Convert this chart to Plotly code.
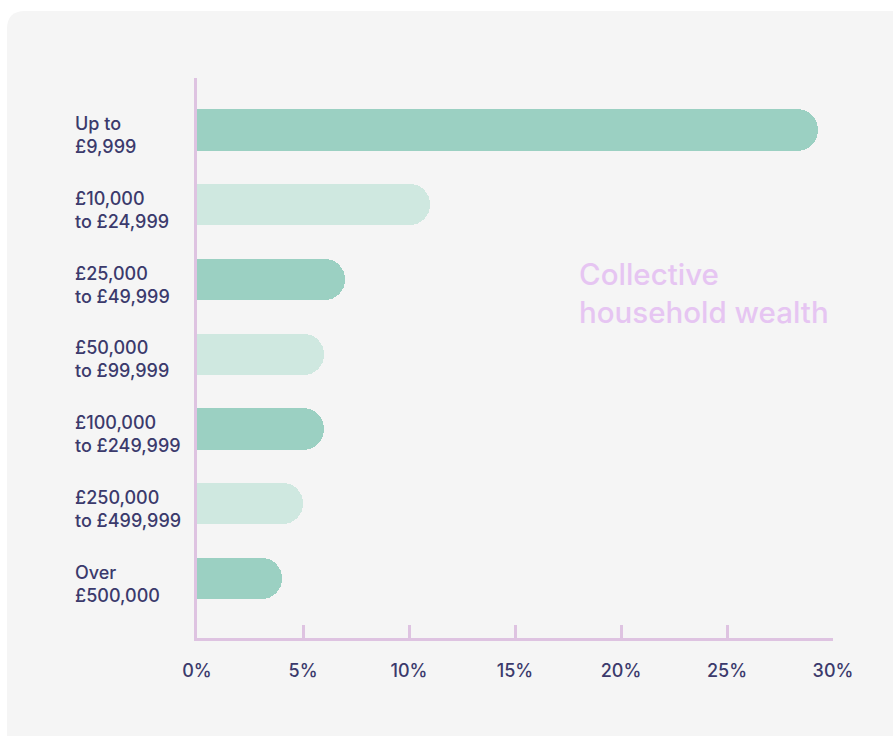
import plotly.graph_objects as go

# Wealth bands, share of households (%)
categories = [
    "Up to\n£9,999",
    "£10,000\nto £24,999",
    "£25,000\nto £49,999",
    "£50,000\nto £99,999",
    "£100,000\nto £249,999",
    "£250,000\nto £499,999",
    "Over\n£500,000",
]
shares = [29.3, 11, 7, 6, 6, 5, 4]
x_ticks = [0, 5, 10, 15, 20, 25, 30]
x_tick_labels = ["0%", "5%", "10%", "15%", "20%", "25%", "30%"]
title_text = "Collective<br>household wealth"

DARK = "#9bd0c2"
LIGHT = "#cfe8e0"
AXIS = "#dec3e1"
TEXT = "#3b3a6c"
FONT = "Inter, 'Open Sans', sans-serif"

W, H = 893, 736
ML, MR, MT, MB = 197, 60, 78, 98
PW, PH = W - ML - MR, H - MT - MB


def px_x(px):
    return (px - ML) / PW


def px_y(py):
    return (H - MB - py) / PH


bar_colors = [DARK if i % 2 == 0 else LIGHT for i in range(len(categories))]

fig = go.Figure(
    go.Bar(
        x=shares,
        y=categories,
        orientation="h",
        width=0.55,
        marker=dict(color=bar_colors, cornerradius="50%", line=dict(width=0)),
        hoverinfo="skip",
    )
)

# rounded card behind the chart
x0, x1, y0, y1, r = 7, 905, 11, 750, 18
card = (
    f"M {px_x(x0)},{px_y(y1)} "
    f"L {px_x(x0)},{px_y(y0 + r)} "
    f"Q {px_x(x0)},{px_y(y0)} {px_x(x0 + r)},{px_y(y0)} "
    f"L {px_x(x1)},{px_y(y0)} "
    f"L {px_x(x1)},{px_y(y1)} Z"
)
fig.add_shape(type="path", path=card, xref="paper", yref="paper",
              fillcolor="#f5f5f5", line=dict(width=0), layer="below")

# left-aligned category labels
for cat in categories:
    fig.add_annotation(
        x=px_x(73), xref="paper", y=cat, yref="y", yshift=-5,
        text=cat.replace("\n", "<br>"), showarrow=False,
        xanchor="left", yanchor="middle", align="left",
        font=dict(family=FONT, size=18, color=TEXT, weight=500),
    )

fig.add_annotation(
    x=px_x(577), xref="paper", y=px_y(293), yref="paper",
    text=title_text, showarrow=False, xanchor="left", yanchor="middle", align="left",
    font=dict(family=FONT, size=29.5, color="#e6c5f2", weight=500),
)

fig.update_layout(
    width=W, height=H,
    margin=dict(l=ML, r=MR, t=MT, b=MB),
    paper_bgcolor="white",
    plot_bgcolor="rgba(0,0,0,0)",
    showlegend=False,
    bargap=0,
    font=dict(family=FONT, color=TEXT),
    xaxis=dict(
        range=[0, 30], tickvals=x_ticks, ticktext=x_tick_labels,
        showgrid=False, zeroline=False,
        showline=True, linecolor=AXIS, linewidth=2.5,
        ticks="inside", ticklen=13, tickwidth=2.5, tickcolor=AXIS,
        ticklabelstandoff=15,
        tickfont=dict(family=FONT, size=18, color=TEXT, weight=500),
        fixedrange=True,
    ),
    yaxis=dict(
        type="category", categoryarray=categories,
        range=[6.796, -0.696],
        showticklabels=False, showgrid=False, zeroline=False,
        showline=True, linecolor=AXIS, linewidth=3,
        ticks="", fixedrange=True,
    ),
)

fig.write_html("out.html", config={"displayModeBar": False})
